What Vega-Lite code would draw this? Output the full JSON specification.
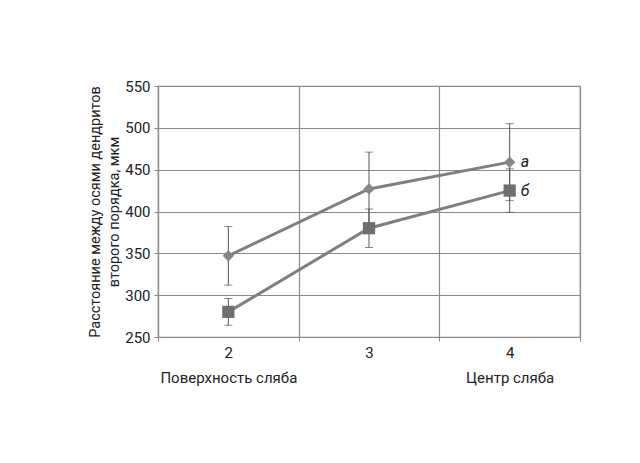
{
  "$schema": "https://vega.github.io/schema/vega-lite/v6.json",
  "width": 422,
  "height": 251,
  "autosize": {"type": "none"},
  "padding": {"left": 158, "top": 86, "right": 60, "bottom": 126},
  "background": "white",
  "config": {
    "font": "Roboto",
    "view": {"stroke": "#8a8a8a", "strokeWidth": 1.2}
  },
  "data": {
    "values": [
      {"pos": "2", "series": "а", "value": 347, "lo": 312, "hi": 382},
      {"pos": "3", "series": "а", "value": 427, "lo": 383, "hi": 471},
      {"pos": "4", "series": "а", "value": 459, "lo": 413, "hi": 505},
      {"pos": "2", "series": "б", "value": 280, "lo": 264, "hi": 296},
      {"pos": "3", "series": "б", "value": 380, "lo": 357, "hi": 403},
      {"pos": "4", "series": "б", "value": 425, "lo": 399, "hi": 451}
    ]
  },
  "encoding": {
    "x": {
      "field": "pos",
      "type": "ordinal",
      "scale": {"paddingInner": 0, "paddingOuter": 0},
      "axis": {
        "title": null,
        "labelAngle": 0,
        "labelExpr": "datum.value == '2' ? ['2', 'Поверхность сляба'] : datum.value == '4' ? ['4', 'Центр сляба'] : datum.value == '3' ? '3' : ''",
        "labelFontSize": 15,
        "labelLineHeight": 25,
        "labelColor": "#222",
        "labelPadding": 4,
        "tickBand": "extent",
        "grid": true,
        "gridColor": "#8a8a8a",
        "gridWidth": 1.2,
        "ticks": true,
        "tickSize": 4,
        "tickColor": "#8a8a8a",
        "domainColor": "#8a8a8a",
        "domainWidth": 1.2
      }
    }
  },
  "layer": [
    {
      "mark": {"type": "rule", "color": "#555", "strokeWidth": 1},
      "encoding": {
        "y": {"field": "lo", "type": "quantitative", "scale": {"domain": [250, 550], "nice": false, "zero": false},
          "axis": {
            "title": ["Расстояние между осями дендритов", "второго порядка, мкм"],
            "titleFontSize": 14.5,
            "titleLineHeight": 19,
            "titleFontWeight": "normal",
            "titleColor": "#222",
            "titlePadding": 3,
            "values": [250, 300, 350, 400, 450, 500, 550],
            "labelFontSize": 15,
            "labelColor": "#222",
            "labelPadding": 4,
            "grid": true,
            "gridColor": "#8a8a8a",
            "gridWidth": 1.2,
            "tickSize": 4,
            "tickColor": "#8a8a8a",
            "domainColor": "#8a8a8a",
            "domainWidth": 1.2
          }
        },
        "y2": {"field": "hi"}
      }
    },
    {
      "mark": {"type": "tick", "color": "#555", "size": 8, "thickness": 1},
      "encoding": {"y": {"field": "lo", "type": "quantitative"}}
    },
    {
      "mark": {"type": "tick", "color": "#555", "size": 8, "thickness": 1},
      "encoding": {"y": {"field": "hi", "type": "quantitative"}}
    },
    {
      "mark": {"type": "line", "color": "#7f7f7f", "strokeWidth": 3},
      "encoding": {
        "y": {"field": "value", "type": "quantitative"},
        "detail": {"field": "series"}
      }
    },
    {
      "mark": {"type": "point", "filled": true, "opacity": 1},
      "encoding": {
        "y": {"field": "value", "type": "quantitative"},
        "shape": {"field": "series", "scale": {"domain": ["а", "б"], "range": ["diamond", "square"]}, "legend": null},
        "size": {"field": "series", "scale": {"domain": ["а", "б"], "range": [130, 150]}, "legend": null},
        "color": {"field": "series", "scale": {"domain": ["а", "б"], "range": ["#858585", "#6f6f6f"]}, "legend": null}
      }
    },
    {
      "transform": [{"filter": "datum.pos == '4'"}],
      "mark": {"type": "text", "align": "left", "baseline": "middle", "dx": 11, "fontStyle": "italic", "fontSize": 16, "color": "#222"},
      "encoding": {
        "y": {"field": "value", "type": "quantitative"},
        "text": {"field": "series"}
      }
    }
  ]
}
